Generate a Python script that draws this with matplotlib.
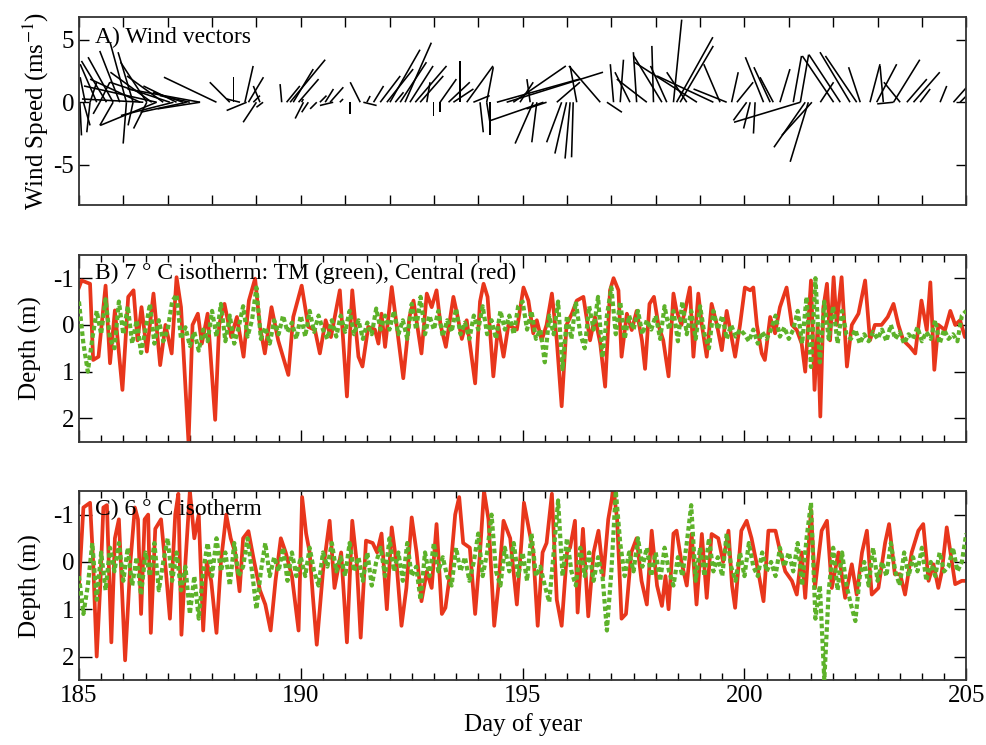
import numpy as np
import matplotlib
matplotlib.use('Agg')
import matplotlib.pyplot as plt
from matplotlib.ticker import MultipleLocator

plt.rcParams['font.family'] = ['Liberation Serif', 'DejaVu Serif']
plt.rcParams['mathtext.fontset'] = 'stix'
plt.rcParams['axes.unicode_minus'] = False

RED = '#e8361c'
GREEN = '#5db22a'

# wind sticks: base day, east (u) and north (v) components in m/s
wind_day = [185.02, 185.10, 185.14, 185.25, 185.40, 185.62, 185.77, 185.92, 186.07, 185.47, 186.22, 186.38,
            186.45, 186.53, 186.64, 186.75, 186.90, 187.05, 187.20, 187.35, 187.50, 188.10, 187.73,
            185.25, 185.47, 185.77, 186.07, 186.22, 186.53, 186.75, 187.13, 187.43, 187.73,
            188.40, 188.48, 188.63, 188.74, 188.82, 188.93, 189.08, 188.78, 189.00, 189.15,
            189.57, 189.68, 189.76, 189.83, 189.95, 190.02, 190.06, 190.17, 190.36, 190.43, 190.55, 190.66, 190.73,
            190.88, 191.34, 191.49, 191.11, 191.41,
            191.64, 191.79, 191.94, 192.01, 192.13, 192.24, 192.35, 192.46, 192.58, 192.69, 192.84, 192.99,
            193.14, 193.14, 193.33, 193.59, 193.44, 193.74, 193.89, 194.04, 194.19,
            194.19, 194.27, 194.42, 194.64, 194.79, 194.94, 195.17, 195.24, 195.32, 195.47, 195.54, 195.77,
            195.88, 195.99, 196.07, 196.14, 196.22, 196.75, 196.90, 197.05, 197.20, 197.42, 197.57, 197.80,
            197.95, 198.14, 198.25, 198.40, 198.47, 198.55, 198.70, 198.93, 199.30, 199.45, 199.60, 199.71,
            199.83, 200.05, 200.13, 200.24, 200.43, 200.58, 200.65, 200.80, 201.10, 201.26, 201.37, 201.44,
            201.52, 201.26, 201.71, 202.01, 202.16, 202.38, 202.53, 202.61, 202.83, 202.98, 203.13, 203.36,
            203.51, 203.66, 203.81, 203.96, 204.41, 204.71, 204.86, 203.36]
wind_u = [0.13, 0.53, -0.4, 0.53, -1.32, -2.0, -2.0, -1.6, -1.3, 0.8, -1.2, -4.0,
          -4.9, -2.1, -3.3, -5.8, -2.9, -4.8, -2.65, -2.4, -2.4, -4.2, -5.8,
          -0.26, -0.53, -1.06, -0.26, -0.4, -1.06, -4.5, -4.2, -3.7, -3.4,
          -1.6, 0.0, -1.06, 0.66, 1.2, 0.53, -0.53, -1.6, -1.06, -0.53,
          -0.13, 1.06, 2.8, 1.6, 1.6, 0.13, -0.66, -0.53, -0.53, 0.53, 0.66, 1.06, -1.06,
          0.26, -0.8, 0.26, 0.0, 1.06,
          0.8, 1.6, 2.1, 2.4, 0.66, 2.1, 2.1, 1.85, 2.5, 1.85, 0.26, 0.0,
          0.0, 1.3, 1.7, 0.0, 1.6, 2.1, 1.3, 0.26, 0.26,
          0.53, 0.0, 6.6, 7.7, 4.2, 1.06, -0.26, -1.45, -0.4, -4.2, -1.6, 1.85,
          -1.2, -0.93, -0.4, -0.13, -0.53, -2.5, 1.2, -0.26, 0.26, -1.2, -0.26, -2.4,
          -0.13, -2.25, -1.3, 0.66, 2.9, 2.65, -1.6, -5.0, -4.5, -1.3, -2.65, 0.53,
          1.3, -1.06, -0.53, -0.13, -1.45, -1.3, -1.06, 0.8, 0.66, 0.66, -2.5, -1.45,
          -2.4, -5.3, 1.06, -2.5, -2.5, -2.4, -2.5, -0.93, 0.8, 1.6, -0.26, 2.1,
          -1.3, 1.6, 2.1, 0.8, 0.53, 1.06, 0.53, -1.3]
wind_v = [-2.65, -1.85, 2.0, 1.6, 3.04, 3.3, 3.6, 4.1, 4.76, 1.6, 4.0, 1.85,
          0.26, 3.2, 2.4, 1.3, 2.1, 1.6, 1.3, 0.8, 0.53, 2.0, 1.06,
          -2.4, -0.93, -1.85, -3.3, -1.85, -2.1, -1.85, -1.06, -0.8, -0.53,
          1.6, 2.0, 0.26, 2.9, 2.0, 0.53, 1.3, -0.66, -1.6, -0.4,
          1.45, 1.3, 3.4, 2.65, 1.85, 0.26, -1.3, -0.8, -0.53, 0.53, 1.06, 1.2, -0.26,
          0.26, 1.6, 0.5, -0.93, -0.26,
          1.3, 2.1, 2.65, 4.2, 0.8, 3.2, 4.76, 2.9, 2.9, 2.1, 1.6, -1.06,
          -0.8, 1.85, 1.6, 3.3, 1.06, 2.9, 0.53, -2.4, -1.6,
          2.8, -2.65, 1.85, 2.4, 2.9, 1.6, 1.85, -3.3, -3.2, -1.45, -0.53, 1.6,
          -3.2, -4.1, -4.5, -4.4, 2.9, 2.9, -0.8, 3.04, 3.4, 2.4, 4.0, 1.85,
          4.5, 3.7, 2.9, 6.6, 5.2, 4.5, 2.4, 3.2, 2.1, 3.04, 1.06, 2.4,
          1.6, -1.45, -2.1, -2.5, 3.6, 2.8, 2.0, 2.65, 3.7, 3.8, -3.6, -4.76,
          -2.65, -1.6, 1.6, 3.7, 3.8, 4.0, 3.7, 2.8, 3.04, 3.04, 2.9, 3.4,
          1.6, 1.85, 2.4, 1.06, 1.3, 1.2, 0.53, -0.13]

# 7 C isotherm, Central mooring (red): day / depth (m)
central7_day = [185.00, 185.06, 185.25, 185.32, 185.44, 185.60, 185.70, 185.81, 185.98, 186.11, 186.23, 186.32,
                186.41, 186.53, 186.68, 186.83, 186.95, 187.09, 187.20, 187.30, 187.37, 187.47, 187.56, 187.68,
                187.77, 187.90, 188.07, 188.16, 188.28, 188.43, 188.56, 188.71, 188.83, 188.97, 189.08, 189.19,
                189.34, 189.49, 189.72, 189.83, 190.02, 190.17, 190.32, 190.43, 190.56, 190.68, 190.88, 191.04,
                191.16, 191.30, 191.39, 191.52, 191.67, 191.75, 191.82, 191.90, 192.05, 192.16, 192.31, 192.45,
                192.54, 192.65, 192.72, 192.84, 192.95, 193.06, 193.15, 193.27, 193.44, 193.53, 193.63, 193.74,
                193.93, 194.04, 194.12, 194.21, 194.34, 194.45, 194.57, 194.68, 194.87, 195.02, 195.13, 195.24,
                195.32, 195.43, 195.54, 195.66, 195.77, 195.88, 195.99, 196.11, 196.22, 196.37, 196.52, 196.63,
                196.75, 196.86, 196.97, 197.05, 197.16, 197.23, 197.35, 197.46, 197.57, 197.69, 197.76, 197.86,
                197.96, 198.06, 198.17, 198.29, 198.40, 198.47, 198.58, 198.66, 198.77, 198.85, 198.96, 199.04,
                199.15, 199.26, 199.38, 199.49, 199.60, 199.71, 199.79, 199.90, 200.01, 200.13, 200.20, 200.28,
                200.39, 200.46, 200.58, 200.69, 200.80, 200.95, 201.07, 201.18, 201.29, 201.37, 201.50, 201.58,
                201.65, 201.71, 201.78, 201.86, 201.93, 202.01, 202.08, 202.19, 202.31, 202.42, 202.57, 202.72,
                202.83, 202.94, 203.09, 203.23, 203.36, 203.47, 203.58, 203.73, 203.85, 203.99, 204.11, 204.19,
                204.28, 204.37, 204.52, 204.64, 204.75, 204.86, 204.97, 205.00]
central7_depth = [-0.8, -0.95, -0.88, 0.75, 0.68, -0.84, 0.82, -0.31, 1.39, -0.6, -0.74, 0.33,
                  -0.38, 0.57, -0.67, 0.86, 0.0, 0.61, -1.02, -0.38, 0.82, 2.52, 0.0, -0.24,
                  0.4, -0.24, 2.03, 0.0, -0.45, 0.26, -0.17, 0.68, -0.52, -0.99, 0.04, 0.61,
                  -0.38, 0.33, 1.07, -0.17, -0.84, 0.04, 0.11, 0.61, -0.1, 0.26, -0.74, 1.53,
                  -0.74, 0.68, 0.89, 0.04, 0.1, 0.4, -0.24, 0.47, -0.81, 0.0, 1.14, -0.17,
                  -0.52, 0.18, 0.61, -0.67, -0.38, -0.74, 0.0, 0.47, -0.6, -0.2, 0.3, -0.1,
                  1.25, -0.5, -0.88, -0.6, 1.1, 0.0, 0.68, 0.0, 0.1, -0.8, -0.52, 0.18,
                  -0.1, 0.33, 0.0, -0.67, 0.33, 1.74, 0.0, -0.24, -0.52, -0.6, 0.33, -0.17,
                  0.4, 1.32, -0.74, -1.0, -0.74, 0.68, -0.24, 0.11, -0.3, 0.33, 0.94, -0.45,
                  -0.6, 0.0, 0.33, 1.1, -0.67, -0.3, 0.0, -0.3, -0.8, 0.68, -0.67, 0.0,
                  0.68, -0.45, 0.0, 0.54, -0.3, 0.26, 0.68, 0.0, -0.8, -0.74, -0.8, 0.0,
                  0.61, 0.75, -0.17, 0.18, -0.38, -0.8, 0.0, 0.11, 0.4, 1.0, -0.95, 1.39,
                  0.0, 1.96, -0.38, -0.88, 0.33, -1.02, 0.0, -1.02, 0.89, 0.0, -0.24, -0.95,
                  0.33, 0.0, 0.0, -0.17, -0.45, 0.0, 0.33, 0.47, 0.61, -0.52, 0.11, -0.91,
                  0.96, 0.0, 0.11, -0.3, 0.0, -0.1, 0.26, 0.2]

# 7 C isotherm, TM mooring (green), every 0.1 day from day 185
tm7_depth = [-0.5, 0.4, 1.0, 0.3, -0.3, 0.2, -0.55, 0.3, 0.5, -0.5,
             0.2, -0.4, 0.4, -0.1, 0.6, 0.1, -0.45, 0.4, -0.1, 0.35,
             0.1, -0.5, -0.65, 0.3, 0.05, 0.45, 0.15, 0.55, 0.1, 0.35,
             -0.3, 0.25, -0.45, 0.35, -0.2, 0.4, 0.05, -0.4, 0.25, -0.1,
             -0.8, 0.3, 0.05, 0.4, -0.1, 0.2, -0.2, 0.15, -0.05, 0.3,
             -0.2, 0.25, -0.3, 0.15, -0.2, 0.1, 0.3, -0.1, 0.25, -0.2,
             0.15, -0.3, 0.2, -0.1, 0.3, -0.05, 0.2, -0.35, 0.1, -0.2,
             0.1, -0.3, 0.2, -0.1, 0.3, -0.45, 0.1, -0.6, 0.2, -0.2,
             0.1, -0.3, 0.25, -0.1, 0.15, -0.35, 0.2, -0.05, 0.3, -0.2,
             0.1, -0.4, 0.2, -0.1, 0.3, -0.3, 0.1, -0.2, 0.2, -0.4,
             -0.5, 0.1, -0.3, 0.3, 0.1, 0.8, -0.2, 0.2, -0.5, 0.95,
             -0.2, 0.3, -0.5, 0.2, 0.5, -0.4, 0.1, -0.6, 0.7, -0.2,
             -0.8, 0.2, -0.5, 0.3, -0.2, 0.1, -0.3, 0.2, -0.1, 0.1,
             -0.2, 0.3, -0.4, 0.1, -0.3, 0.35, -0.5, 0.2, -0.3, 0.3,
             -0.4, 0.2, 0.5, -0.3, 0.1, -0.2, 0.3, 0.0, 0.25, 0.1,
             0.2, 0.35, 0.1, 0.4, 0.15, 0.3, 0.1, -0.2, 0.25, 0.05,
             0.3, 0.1, -0.3, 0.4, -0.6, 0.9, -1.0, 0.8, -0.5, 0.3,
             -0.4, 0.4, -0.3, 0.2, 0.3, 0.1, 0.4, 0.2, 0.35, 0.15,
             0.3, 0.1, 0.35, 0.0, 0.3, 0.15, 0.4, 0.2, 0.3, 0.05,
             0.35, 0.15, 0.3, -0.1, 0.4, 0.1, 0.3, 0.2, 0.35, -0.2,
             -0.3]

# 6 C isotherm, Central mooring (red)
central6_day = [185.00, 185.10, 185.25, 185.32, 185.40, 185.48, 185.55, 185.63, 185.73, 185.81, 185.90, 186.04,
                186.16, 186.26, 186.33, 186.40, 186.48, 186.56, 186.62, 186.72, 186.85, 186.96, 187.05, 187.17,
                187.24, 187.31, 187.40, 187.50, 187.60, 187.70, 187.80, 187.88, 187.98, 188.10, 188.20, 188.32,
                188.42, 188.52, 188.62, 188.70, 188.82, 188.93, 189.08, 189.20, 189.32, 189.43, 189.55, 189.66,
                189.80, 189.95, 190.03, 190.12, 190.20, 190.27, 190.36, 190.50, 190.65, 190.76, 190.91, 191.04,
                191.16, 191.26, 191.35, 191.47, 191.62, 191.72, 191.82, 191.94, 192.05, 192.16, 192.27, 192.38,
                192.50, 192.61, 192.72, 192.84, 192.95, 193.06, 193.18, 193.26, 193.37, 193.48, 193.57, 193.66,
                193.81, 193.93, 194.04, 194.13, 194.23, 194.36, 194.45, 194.57, 194.72, 194.87, 194.98, 195.03,
                195.13, 195.24, 195.34, 195.45, 195.54, 195.66, 195.77, 195.88, 196.00, 196.07, 196.18, 196.24,
                196.36, 196.48, 196.60, 196.71, 196.82, 196.93, 197.05, 197.13, 197.23, 197.33, 197.45, 197.57,
                197.68, 197.80, 197.91, 198.03, 198.14, 198.22, 198.29, 198.40, 198.47, 198.58, 198.70, 198.81,
                198.92, 199.04, 199.15, 199.26, 199.41, 199.52, 199.64, 199.72, 199.79, 199.93, 200.05, 200.16,
                200.31, 200.43, 200.54, 200.70, 200.81, 200.92, 201.07, 201.18, 201.29, 201.37, 201.50, 201.59,
                201.74, 201.86, 201.97, 202.12, 202.27, 202.42, 202.53, 202.65, 202.76, 202.87, 203.02, 203.17,
                203.26, 203.39, 203.51, 203.62, 203.77, 203.92, 204.03, 204.15, 204.26, 204.37, 204.45, 204.56,
                204.66, 204.75, 204.90, 205.00]
central6_depth = [0.5, -1.15, -1.25, 0.0, 2.0, 0.5, -1.15, -1.2, 1.7, -0.5, -0.9, 2.08,
                  0.0, -1.15, -0.9, 1.1, -0.9, -1.0, 1.5, -0.7, -0.9, 0.2, 1.2, -1.0,
                  -1.44, 1.54, 0.0, -1.5, -0.5, -1.0, 1.45, 0.0, 0.4, 1.5, 0.0, -1.0,
                  -0.5, -0.2, 0.62, -0.5, -0.65, -0.1, 0.6, 0.9, 1.45, 0.4, -0.5, -0.2,
                  0.3, 1.45, -1.37, -0.6, -0.2, 0.7, 1.75, 0.2, -0.87, 0.55, -0.2, 1.7,
                  -0.87, 0.0, 1.6, -0.45, -0.4, -0.2, -0.6, 1.0, -0.73, 0.05, 1.35, 0.55,
                  -0.94, -0.2, 0.83, 0.2, 0.55, -0.8, 1.1, 0.97, 0.2, -1.0, -1.37, -0.4,
                  -0.3, 1.1, -0.2, -1.5, -0.9, 1.35, 0.55, -0.87, -0.5, 0.9, -0.5, -1.25,
                  -0.75, -0.2, 1.35, -0.2, -0.4, -1.44, 0.8, 1.35, -0.2, -0.3, -0.87, 1.07,
                  -0.7, 1.15, -0.2, -0.66, 0.3, -0.9, -1.55, -0.9, 1.2, 1.1, -0.2, -0.5,
                  0.4, 0.9, -0.66, 0.5, 0.93, 0.3, 1.0, -0.6, -0.66, 0.0, 0.5, -0.59,
                  0.9, -0.59, 0.76, -0.59, -0.5, 0.0, -0.66, 0.5, 0.97, -0.66, -0.87, -0.5,
                  0.2, 0.83, -0.66, -0.66, -0.2, 0.2, 0.4, 0.69, -0.2, 0.76, -1.1, 0.55,
                  -0.66, -0.87, 0.55, -0.2, 0.76, 0.05, 0.69, -0.2, -0.66, 0.69, 0.55, -0.4,
                  -0.8, 0.26, 0.26, 0.69, -0.2, -0.66, -0.8, 0.4, 0.05, 0.55, 0.2, -0.73,
                  -0.1, 0.47, 0.4, 0.4]

# 6 C isotherm, TM mooring (green), every 0.1 day from day 185
tm6_depth = [0.3, 1.1, 0.5, -0.4, 0.8, -0.2, 0.6, -0.3, 0.2, -0.4,
             0.4, -0.3, 0.5, -0.1, 0.7, -0.2, 0.3, -0.4, 0.6, 0.0,
             -0.5, 0.4, -0.2, 0.6, 0.1, 1.1, 0.3, 1.2, 0.2, -0.4,
             0.3, -0.5, 0.2, -0.2, 0.5, -0.4, 0.3, 0.1, -0.5, 0.2,
             1.0, 0.2, -0.4, 0.3, -0.1, 0.2, -0.3, 0.4, -0.2, 0.3,
             -0.1, 0.3, -0.3, 0.2, 0.5, -0.2, 0.1, -0.4, 0.2, -0.1,
             0.3, -0.4, 0.2, -0.1, 0.4, -0.2, 0.5, 0.0, -0.3, 0.3,
             -0.5, 0.2, -0.2, 0.4, -0.4, 0.3, 0.1, 0.8, -0.2, 0.3,
             -0.4, 0.2, -0.1, 0.3, 0.5, -0.3, 0.2, -0.1, 0.4, 0.0,
             -0.6, 0.3, -0.2, -1.0, 0.2, 0.5, -0.3, 0.2, -0.4, 0.3,
             -0.2, 0.4, -0.6, 0.3, 0.1, 0.5, 0.85, -0.2, -1.3, 0.3,
             -0.5, 0.2, 0.5, -0.3, 0.3, -0.2, 0.4, -0.1, 0.3, 1.45,
             0.2, -1.5, -0.4, 0.3, -0.2, 0.2, -0.5, 0.1, -0.3, 0.3,
             -0.2, 0.4, -0.3, 0.2, 0.5, -0.1, 0.3, -0.4, -1.2, 0.4,
             -0.3, 0.3, -0.5, 0.2, -0.1, 0.3, -0.6, 0.1, 0.4, -0.2,
             0.3, -0.4, 0.1, 0.3, -0.2, 0.2, 0.0, 0.3, -0.3, 0.1,
             -0.2, 0.2, -0.4, 0.5, -0.5, -1.25, 1.2, 0.5, 2.5, 0.6,
             -0.3, 0.6, -0.2, 0.5, 0.9, 1.25, 0.3, 0.0, 0.5, -0.3,
             0.4, 0.0, 0.3, -0.4, 0.2, 0.5, -0.2, 0.3, -0.1, 0.2,
             -0.3, 0.4, 0.0, 0.3, -0.2, 0.2, 0.1, -0.3, 0.2, 0.0,
             -0.6]

tm_day = 185 + 0.1 * np.arange(len(tm7_depth))

fig = plt.figure(figsize=(9.87, 7.45), dpi=100)
ax_a = fig.add_axes([0.080, 0.725, 0.899, 0.252])
ax_b = fig.add_axes([0.080, 0.407, 0.899, 0.251])
ax_c = fig.add_axes([0.080, 0.087, 0.899, 0.254])

for ax in (ax_a, ax_b, ax_c):
    ax.set_xlim(185, 205)
    for sp in ax.spines.values():
        sp.set_linewidth(1.3)
        sp.set_color('#333333')
    ax.tick_params(which='both', direction='in', top=True, right=True, labelsize=18, width=1.0)

# A) wind stick plot
ax_a.set_ylim(-8.2, 6.8)
ax_a.quiver(wind_day, np.zeros(len(wind_day)), wind_u, wind_v, angles='uv', scale_units='y', scale=1,
            headwidth=0, headlength=0, headaxislength=0, units='dots', width=1.6, color='black', pivot='tail')
ax_a.set_yticks([-5, 0, 5])
ax_a.xaxis.set_major_locator(MultipleLocator(1))
ax_a.tick_params(which='major', length=7, labelbottom=False)
ax_a.set_ylabel('Wind Speed (ms$^{-1}$)', fontsize=18, labelpad=2)
ax_a.text(0.018, 0.89, 'A) Wind vectors', transform=ax_a.transAxes, fontsize=17, va='center')

# B) and C) isotherm depths
for ax, cday, cdep, tdep, label in [
        (ax_b, central7_day, central7_depth, tm7_depth, 'B) 7 ° C isotherm: TM (green), Central (red)'),
        (ax_c, central6_day, central6_depth, tm6_depth, 'C) 6 ° C isotherm')]:
    ax.plot(cday, cdep, color=RED, lw=2.7, solid_joinstyle='round', zorder=2)
    ax.plot(tm_day, tdep, color=GREEN, lw=3.0, linestyle=(0, (1.1, 0.7)), zorder=3)
    ax.set_ylim(2.5, -1.5)
    ax.set_yticks([-1, 0, 1, 2])
    ax.xaxis.set_major_locator(MultipleLocator(5))
    ax.xaxis.set_minor_locator(MultipleLocator(0.5))
    ax.tick_params(which='major', length=9)
    ax.tick_params(which='minor', length=5)
    ax.set_ylabel('Depth (m)', fontsize=18, labelpad=8)
    ax.text(0.018, 0.9, label, transform=ax.transAxes, fontsize=17, va='center', zorder=5)

ax_b.tick_params(labelbottom=False)
ax_c.set_xticks([185, 190, 195, 200, 205])
ax_c.set_xlabel('Day of year', fontsize=18, labelpad=4)

fig.savefig('out.png', dpi=100)
